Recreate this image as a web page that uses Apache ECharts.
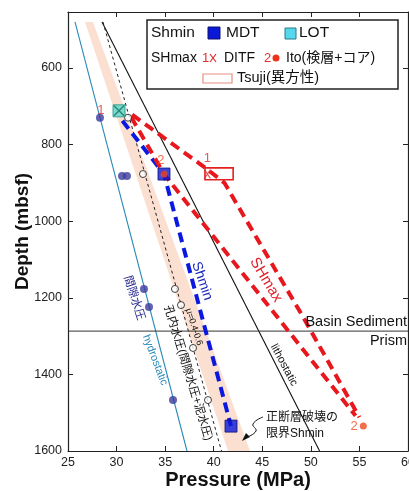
<!DOCTYPE html>
<html><head><meta charset="utf-8">
<script src="https://cdn.jsdelivr.net/npm/echarts@6/dist/echarts.min.js"></script>
<style>html,body{margin:0;padding:0;background:#fff}#c{width:409px;height:491px}</style>
</head><body><div id="c"></div>
<script>
// ---- data ----
const xTicks = [25, 30, 35, 40, 45, 50, 55, 60];
const depthTicks = [600, 800, 1000, 1200, 1400, 1600];
const hydrostatic = [[25.72, 480], [37.25, 1600]];
const lithostatic = [[28.5, 480], [50.9, 1600]];
const boreholePressure = [[28.6, 480], [40.8, 1600]];
const bandLeft = [[26.75, 480], [41.47, 1600]];
const bandRight = [[27.57, 480], [43.74, 1600]];
const porePressureDots = [[28.29, 730], [30.56, 882], [31.07, 882], [32.82, 1177], [33.34, 1224], [35.81, 1467]];
const boreholeCircles = [[31.18, 730], [32.72, 877], [36.01, 1177], [36.63, 1219], [37.87, 1331], [39.41, 1467]];
const shminLine = [[30.6, 738], [34.88, 877], [41.78, 1535]];
const mdt = [[34.88, 877], [41.78, 1535]];
const lot = [[30.25, 712]];
const ditf = [[30.25, 712], [39.35, 877]];
const ito = [[34.88, 877], [55.4, 1535]];
const shmaxA = [[31.6, 722], [39.2, 862], [41.1, 900], [49.2, 1250], [55.0, 1512]];
const shmaxB = [[31.5, 728], [34.88, 877], [54.6, 1508]];
const tsuji = [[39.1, 861, 42.0, 892]];
const boundaryDepth = 1287;
const boundaryLine = [[25, boundaryDepth], [60, boundaryDepth]];

const FONT = "'Liberation Sans', 'Noto Sans CJK JP', sans-serif";
const chart = echarts.init(document.getElementById('c'));

function rtext(text, cx, cy, deg, size, color) {
  return {
    type: 'text', x: cx, y: cy, rotation: -deg * Math.PI / 180, z: 100,
    style: { text: text, fill: color, font: size + 'px ' + FONT,
      align: 'center', verticalAlign: 'middle', textAlign: 'center', textVerticalAlign: 'middle' }
  };
}
function ltext(text, x, cy, size, color, align) {
  return {
    type: 'text', x: x, y: cy, z: 101,
    style: { text: text, fill: color || '#111', font: size + 'px ' + FONT,
      align: align || 'left', verticalAlign: 'middle', textAlign: align || 'left', textVerticalAlign: 'middle' }
  };
}

const axisCommon = {
  type: 'value',
  axisLine: { show: true, lineStyle: { color: '#222', width: 1.2 } },
  axisTick: { show: true, inside: true, length: 5, lineStyle: { color: '#222' } },
  splitLine: { show: false }
};

const dashBlack = { color: '#222', width: 1, type: [3, 3] };

const option = {
  animation: false,
  backgroundColor: '#fff',
  grid: { left: 68, right: 1, top: 12, bottom: 40, containLabel: false, outerBoundsMode: 'none' },
  xAxis: [
    Object.assign({}, axisCommon, {
      position: 'bottom', min: 25, max: 60, interval: 5,
      axisLabel: { color: '#222', fontSize: 12.5, margin: 5, fontFamily: FONT, showMaxLabel: true, hideOverlap: false },
      name: 'Pressure (MPa)', nameLocation: 'middle', nameGap: 19, nameMoveOverlap: false,
      nameTextStyle: { fontSize: 20, fontWeight: 'bold', color: '#111', fontFamily: FONT }
    }),
    Object.assign({}, axisCommon, {
      position: 'top', min: 25, max: 60, interval: 5, axisLabel: { show: false }
    })
  ],
  yAxis: [
    Object.assign({}, axisCommon, {
      position: 'left', inverse: true, min: 454, max: 1600,
      axisLabel: { color: '#222', fontSize: 12.5, margin: 6, fontFamily: FONT, customValues: depthTicks,
        formatter: function (v) { return String(v); } },
      axisTick: { show: true, inside: true, length: 5, lineStyle: { color: '#222' }, customValues: depthTicks },
      name: 'Depth (mbsf)', nameLocation: 'middle', nameGap: 36, nameMoveOverlap: false,
      nameTextStyle: { fontSize: 19, fontWeight: 'bold', color: '#111', fontFamily: FONT }
    }),
    Object.assign({}, axisCommon, {
      position: 'right', inverse: true, min: 454, max: 1600,
      axisLabel: { show: false, customValues: depthTicks },
      axisTick: { show: true, inside: true, length: 5, lineStyle: { color: '#222' }, customValues: depthTicks }
    })
  ],
  series: [
    {
      type: 'custom', z: 1, silent: true, data: [bandLeft[0]],
      renderItem: function (params, api) {
        const pts = bandLeft.map(p => api.coord(p)).concat(bandRight.slice().reverse().map(p => api.coord(p)));
        return { type: 'polygon', shape: { points: pts }, style: { fill: '#fbe0d1' } };
      }
    },
    { type: 'line', data: hydrostatic, showSymbol: false, z: 2, lineStyle: { color: '#2a8ab8', width: 1.1 } },
    { type: 'line', data: lithostatic, showSymbol: false, z: 2, lineStyle: { color: '#111', width: 1.1 } },
    { type: 'line', data: boreholePressure, showSymbol: false, z: 2, lineStyle: dashBlack },
    { type: 'line', data: boundaryLine, showSymbol: false, z: 2, lineStyle: { color: '#333', width: 1 } },
    { type: 'line', data: shminLine, showSymbol: false, z: 3, lineStyle: { color: '#0a18e0', width: 4, type: [10, 6] } },
    { type: 'line', data: shmaxA, showSymbol: false, z: 3, lineStyle: { color: '#e8171d', width: 4, type: [10, 6] } },
    { type: 'line', data: shmaxB, showSymbol: false, z: 3, lineStyle: { color: '#e8171d', width: 4, type: [10, 6] } },
    {
      type: 'custom', z: 4, data: tsuji, encode: { x: [0, 2], y: [1, 3] },
      renderItem: function (params, api) {
        const a = api.coord([api.value(0), api.value(1)]);
        const b = api.coord([api.value(2), api.value(3)]);
        return { type: 'rect', shape: { x: a[0], y: a[1], width: b[0] - a[0], height: b[1] - a[1] },
          style: { fill: 'rgba(255,255,255,0)', stroke: '#e22020', lineWidth: 1.6 } };
      }
    },
    { type: 'scatter', data: porePressureDots, z: 5, symbol: 'circle', symbolSize: 8, itemStyle: { color: '#3b3b9e' } },
    { type: 'scatter', data: boreholeCircles, z: 5, symbol: 'circle', symbolSize: 7,
      itemStyle: { color: '#fff', borderColor: '#111', borderWidth: 1 } },
    { type: 'scatter', data: mdt, z: 6, symbol: 'rect', symbolSize: 12,
      itemStyle: { color: '#0a18d8', borderColor: '#101070', borderWidth: 1 } },
    { type: 'scatter', data: lot, z: 6, symbol: 'rect', symbolSize: 12,
      itemStyle: { color: '#55d8cc', borderColor: '#1f8f80', borderWidth: 1 } },
    {
      type: 'scatter', z: 7, symbol: 'path://M0 0L10 10M10 0L0 10', symbolSize: 8,
      itemStyle: { color: 'none', borderColor: '#e02828', borderWidth: 1.3 },
      label: { show: true, formatter: '1', color: '#e03030', fontSize: 13, fontFamily: FONT },
      data: [
        { value: ditf[0], symbolSize: 10, itemStyle: { borderColor: '#1a6a58', borderWidth: 1.3 }, label: { position: 'left', distance: 7 } },
        { value: ditf[1], symbolSize: [6, 9], label: { position: 'top', distance: 2 } }
      ]
    },
    {
      type: 'scatter', z: 8, symbol: 'circle', symbolSize: 7, itemStyle: { color: '#f04a1e' },
      label: { show: true, formatter: '2', color: '#f04a1e', fontSize: 13, fontFamily: FONT },
      data: [
        { value: ito[0], label: { position: 'top', distance: 4, offset: [-3, 0] } },
        { value: ito[1], label: { position: 'left', distance: 2 } }
      ]
    }
  ],
  graphic: [
    // legend
    { type: 'rect', z: 90, shape: { x: 147, y: 20, width: 251, height: 69 }, style: { fill: '#fff', stroke: '#222', lineWidth: 1.5 } },
    ltext('Shmin', 151, 33, 15.5),
    { type: 'rect', z: 101, shape: { x: 208, y: 27, width: 12, height: 12 }, style: { fill: '#0a18d8', stroke: '#101070', lineWidth: 1 } },
    ltext('MDT', 226, 33, 15.5),
    { type: 'rect', z: 101, shape: { x: 285, y: 28, width: 11, height: 11 }, style: { fill: '#55d8ec', stroke: '#2a7a8a', lineWidth: 1 } },
    ltext('LOT', 299, 33, 15.5),
    ltext('SHmax', 151, 58, 14),
    ltext('1', 202, 58, 13, '#e03030'),
    { type: 'polyline', z: 101, shape: { points: [[210, 54], [216, 62]] }, style: { stroke: '#e03030', lineWidth: 1.2 } },
    { type: 'polyline', z: 101, shape: { points: [[216, 54], [210, 62]] }, style: { stroke: '#e03030', lineWidth: 1.2 } },
    ltext('DITF', 224, 58, 14),
    ltext('2', 264, 58, 13, '#e03030'),
    { type: 'circle', z: 101, shape: { cx: 276, cy: 58, r: 3.5 }, style: { fill: '#f03018' } },
    ltext('Ito(検層+コア)', 286, 58, 14),
    { type: 'rect', z: 101, shape: { x: 203, y: 74, width: 29, height: 9 }, style: { fill: '#fff', stroke: '#e8907c', lineWidth: 1.2 } },
    ltext('Tsuji(異方性)', 237, 78, 14.5),
    // in-plot labels
    rtext('Shmin', 202, 281, 71, 14, '#1a2ab8'),
    rtext('SHmax', 266, 280, 59, 15, '#e0202a'),
    rtext('lithostatic', 284, 365, 62, 11, '#111'),
    rtext('hydrostatic', 155, 360, 69, 11, '#2a8ab8'),
    rtext('間隙水圧', 134, 298, 72, 11.5, '#2a2a90'),
    rtext('孔内水圧(間隙水圧+泥水圧)', 188, 373, 73, 11.5, '#111'),
    rtext('μ=0.4-0.6', 194, 327, 72, 9, '#111'),
    ltext('Basin Sediment', 407, 322, 14.5, '#111', 'right'),
    ltext('Prism', 407, 341, 14.5, '#111', 'right'),
    ltext('正断層破壊の', 266, 418, 12, '#111'),
    ltext('限界Shmin', 266, 434, 12, '#111'),
    { type: 'polyline', z: 101, shape: { points: [[263, 417], [253, 424], [256, 431], [247, 437]], smooth: 0.5 }, style: { stroke: '#111', lineWidth: 1, fill: null } },
    { type: 'polygon', z: 101, shape: { points: [[242, 441], [250, 437], [246, 433]] }, style: { fill: '#111' } }
  ]
};
chart.setOption(option);
</script>
</body></html>
